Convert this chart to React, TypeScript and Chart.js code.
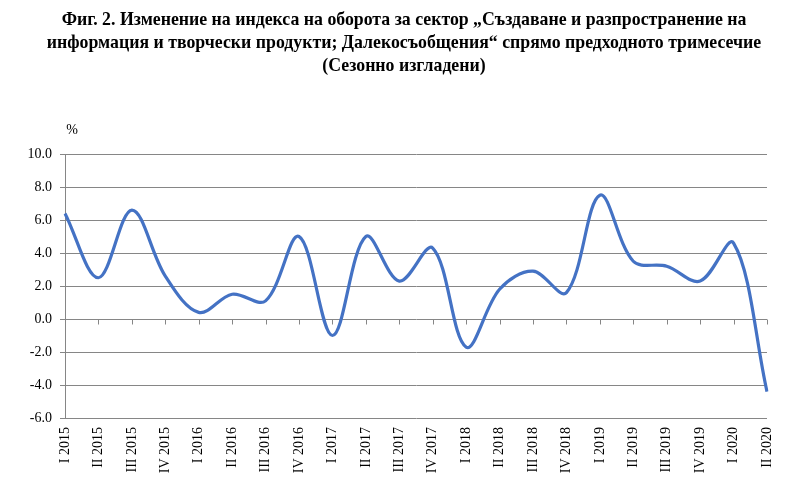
import React, { useEffect, useRef } from 'react';
import { Chart, registerables } from 'chart.js';

Chart.register(...registerables);

const titleLines = [
  'Фиг. 2. Изменение на индекса на оборота за сектор „Създаване и разпространение на',
  'информация и творчески продукти; Далекосъобщения“ спрямо предходното тримесечие',
  '(Сезонно изгладени)',
];

const unitLabel = '%';

const categories = [
  'I 2015', 'II 2015', 'III 2015', 'IV 2015',
  'I 2016', 'II 2016', 'III 2016', 'IV 2016',
  'I 2017', 'II 2017', 'III 2017', 'IV 2017',
  'I 2018', 'II 2018', 'III 2018', 'IV 2018',
  'I 2019', 'II 2019', 'III 2019', 'IV 2019',
  'I 2020', 'II 2020',
];

const values = [
  6.4, 2.5, 6.6, 2.6,
  0.4, 1.5, 1.1, 5.0,
  -1.0, 5.0, 2.3, 4.3,
  -1.7, 1.8, 2.9, 1.6,
  7.5, 3.5, 3.2, 2.3,
  4.6, -4.4,
];

const yMin = -6;
const yMax = 10;
const yStep = 2;

const FONT = '"Times New Roman", "Liberation Serif", serif';
const GRID = '#868686';

const overlay = {
  id: 'overlay',
  afterDraw(chart: any) {
    const { ctx, scales } = chart;
    ctx.save();
    ctx.fillStyle = '#000';
    ctx.textAlign = 'center';
    ctx.textBaseline = 'middle';
    ctx.font = `bold 17.8px ${FONT}`;
    titleLines.forEach((l, i) => ctx.fillText(l, 404, 20 + i * 23));
    ctx.font = `14px ${FONT}`;
    ctx.fillText(unitLabel, 72, 130);
    const y0 = Math.round(scales.y.getPixelForValue(0)) + 0.5;
    ctx.strokeStyle = GRID;
    ctx.lineWidth = 1;
    ctx.beginPath();
    for (let i = 1; i < categories.length; i++) {
      const x = Math.round(scales.x.getPixelForValue(i)) + 0.5;
      ctx.moveTo(x, y0);
      ctx.lineTo(x, y0 + 5);
    }
    ctx.stroke();
    ctx.restore();
  },
};

export default function App() {
  const ref = useRef<HTMLCanvasElement | null>(null);
  useEffect(() => {
    if (!ref.current) return;
    const chart = new Chart(ref.current, {
      type: 'line',
      data: {
        labels: categories,
        datasets: [
          {
            data: values,
            borderColor: '#4472C4',
            borderWidth: 3.2,
            pointRadius: 0,
            tension: 0.35,
            fill: false,
          },
        ],
      },
      options: {
        animation: false,
        responsive: false,
        layout: { padding: { top: 154, right: 41, left: 0, bottom: 0 } },
        plugins: {
          legend: { display: false },
          tooltip: { enabled: false },
          title: { display: false },
        },
        scales: {
          x: {
            offset: false,
            grid: { display: false, drawTicks: false },
            border: { display: false },
            ticks: {
              autoSkip: false,
              minRotation: 90,
              maxRotation: 90,
              padding: 9,
              color: '#000',
              font: { family: FONT, size: 14 },
            },
            afterFit: (s: any) => {
              s.height = 84;
            },
          },
          y: {
            min: yMin,
            max: yMax,
            grid: { color: GRID, tickLength: 5, drawTicks: true },
            border: { color: GRID },
            ticks: {
              stepSize: yStep,
              padding: 8,
              color: '#000',
              font: { family: FONT, size: 14 },
              callback: (v: any) => Number(v).toFixed(1),
            },
            afterFit: (s: any) => {
              s.width = 65;
            },
          },
        },
      },
      plugins: [overlay],
    });
    return () => chart.destroy();
  }, []);
  return (
    <div style={{ position: 'fixed', left: 0, top: 0, width: 808, height: 502, background: '#fff' }}>
      <canvas ref={ref} width={808} height={502} />
    </div>
  );
}
